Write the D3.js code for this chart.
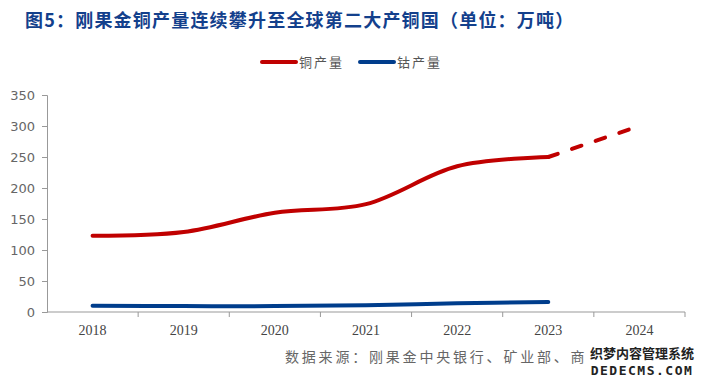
<!DOCTYPE html>
<html>
<head>
<meta charset="utf-8">
<script src="https://cdn.jsdelivr.net/npm/d3@7"></script>
<style>
  body { margin: 0; background: #fff; }
  svg { display: block; }
</style>
</head>
<body>
<div id="chart"></div>
<script>
var svgWidth = 701;
var svgHeight = 387;

// data
var years = ["2018", "2019", "2020", "2021", "2022", "2023", "2024"];
var copper = [123, 129, 160, 174, 235, 250];
var copperForecast = [250, 300];          // 2023 -> 2024, dashed
var cobalt = [10, 9.5, 9.5, 11, 14, 16];
var yTicks = [0, 50, 100, 150, 200, 250, 300, 350];

var margin = { top: 95, right: 16, bottom: 75, left: 47 };
var width = svgWidth - margin.left - margin.right;
var height = svgHeight - margin.top - margin.bottom;

var svg = d3.select("#chart").append("svg")
  .attr("width", svgWidth)
  .attr("height", svgHeight);

// title
svg.append("text")
  .attr("x", 25)
  .attr("y", 27)
  .attr("font-family", "'Noto Sans CJK SC', serif")
  .attr("font-weight", "bold")
  .attr("font-size", 18)
  .attr("letter-spacing", 1.2)
  .attr("fill", "#13408C")
  .text("图5：刚果金铜产量连续攀升至全球第二大产铜国（单位：万吨）");

var chartGroup = svg.append("g")
  .attr("transform", `translate(${margin.left}, ${margin.top})`);

var x = d3.scaleBand().domain(years).range([0, width]);
var y = d3.scaleLinear().domain([0, 350]).range([height, 0]);

// x axis: ticks between categories
var xAxis = chartGroup.append("g")
  .attr("transform", `translate(0, ${height})`);
xAxis.append("line")
  .attr("x1", 0).attr("x2", width)
  .attr("stroke", "#999");
xAxis.selectAll(".tick")
  .data(years)
  .enter().append("line")
  .attr("x1", d => x(d) + x.bandwidth())
  .attr("x2", d => x(d) + x.bandwidth())
  .attr("y1", 0).attr("y2", 5)
  .attr("stroke", "#999");
xAxis.selectAll("text")
  .data(years)
  .enter().append("text")
  .attr("x", d => x(d) + x.bandwidth() / 2)
  .attr("y", 23)
  .attr("text-anchor", "middle")
  .attr("font-family", "'Liberation Serif', serif")
  .attr("font-size", 14)
  .attr("fill", "#444")
  .text(d => d);

// y axis
var leftAxis = d3.axisLeft(y).tickValues(yTicks).tickSize(5).tickSizeOuter(5);
var yAxis = chartGroup.append("g").call(leftAxis);
yAxis.select(".domain").attr("stroke", "#999");
yAxis.selectAll(".tick line").attr("stroke", "#999");
yAxis.selectAll(".tick text")
  .attr("x", -12)
  .attr("font-family", "'DejaVu Sans', sans-serif")
  .attr("font-size", 13)
  .attr("fill", "#666");

var cx = function(i) { return x(years[i]) + x.bandwidth() / 2; };

// smoothed lines like the spreadsheet original
var line = d3.line()
  .x((d, i) => cx(i))
  .y(d => y(d))
  .curve(d3.curveCatmullRom.alpha(0.5));

chartGroup.append("path")
  .datum(copper)
  .attr("d", line)
  .attr("fill", "none")
  .attr("stroke", "#C00000")
  .attr("stroke-width", 4)
  .attr("stroke-linecap", "round");

var forecastLine = d3.line()
  .x((d, i) => cx(i + 5))
  .y(d => y(d));

chartGroup.append("path")
  .datum(copperForecast)
  .attr("d", forecastLine)
  .attr("fill", "none")
  .attr("stroke", "#C00000")
  .attr("stroke-width", 4)
  .attr("stroke-linecap", "round")
  .attr("stroke-dasharray", "10 15");

chartGroup.append("path")
  .datum(cobalt)
  .attr("d", line)
  .attr("fill", "none")
  .attr("stroke", "#003D8C")
  .attr("stroke-width", 4)
  .attr("stroke-linecap", "round");

// legend
var legend = [
  { name: "铜产量", color: "#C00000", x: 262 },
  { name: "钴产量", color: "#003D8C", x: 360 }
];
var lg = svg.selectAll(".legend")
  .data(legend)
  .enter().append("g")
  .attr("transform", d => `translate(${d.x}, 62)`);
lg.append("line")
  .attr("x1", 0).attr("x2", 34)
  .attr("stroke", d => d.color)
  .attr("stroke-width", 4)
  .attr("stroke-linecap", "round");
lg.append("text")
  .attr("x", 37)
  .attr("y", 5)
  .attr("font-family", "'Noto Sans CJK SC', sans-serif")
  .attr("font-size", 13)
  .attr("letter-spacing", 2)
  .attr("fill", "#555")
  .text(d => d.name);

// source
svg.append("text")
  .attr("x", 285)
  .attr("y", 362)
  .attr("font-family", "'Noto Sans CJK SC', sans-serif")
  .attr("font-size", 14)
  .attr("fill", "#666")
  .attr("letter-spacing", 2.8)
  .text("数据来源：刚果金中央银行、矿业部、商");

// watermark
svg.append("rect")
  .attr("x", 592).attr("y", 344)
  .attr("width", 100).attr("height", 34)
  .attr("fill", "#fff");
svg.append("text")
  .attr("x", 642).attr("y", 358)
  .attr("text-anchor", "middle")
  .attr("font-family", "'Noto Sans CJK SC', sans-serif")
  .attr("font-weight", "bold")
  .attr("font-size", 13)
  .attr("fill", "#222")
  .text("织梦内容管理系统");
svg.append("text")
  .attr("x", 642).attr("y", 375)
  .attr("text-anchor", "middle")
  .attr("font-family", "'DejaVu Sans Mono', monospace")
  .attr("font-weight", "bold")
  .attr("font-size", 13)
  .attr("letter-spacing", 1.5)
  .attr("fill", "#222")
  .text("DEDECMS.COM");
</script>
</body>
</html>
